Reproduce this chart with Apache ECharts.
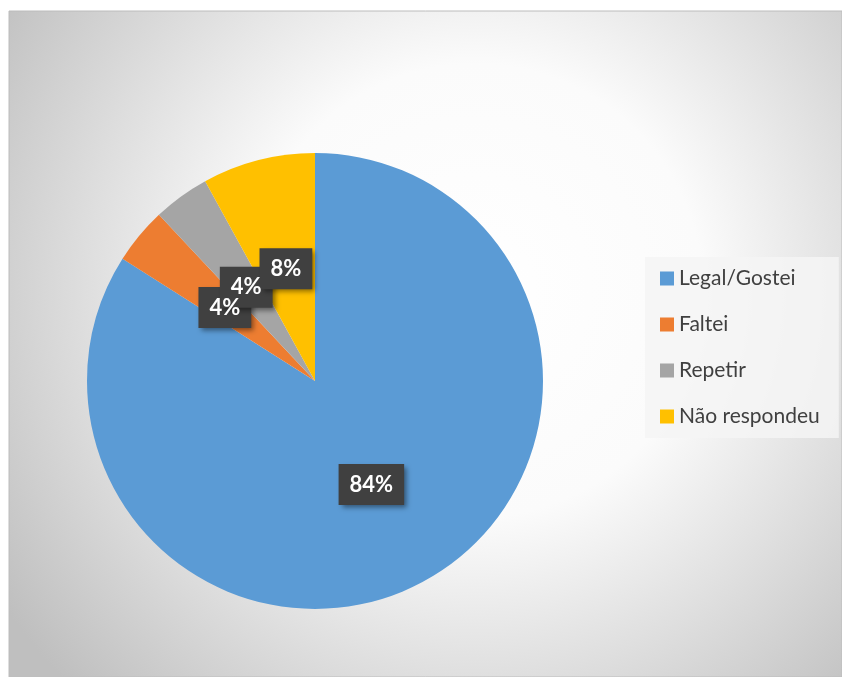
<!DOCTYPE html>
<html>
<head>
<meta charset="utf-8">
<style>
  html, body { margin: 0; padding: 0; background: #ffffff; }
  #chart { width: 842px; height: 677px; }
</style>
<script src="https://cdn.jsdelivr.net/npm/echarts@6/dist/echarts.min.js"></script>
</head>
<body>
<div id="chart"></div>
<script>
// Survey answers (respondent counts)
const categories = ['Legal/Gostei', 'Faltei', 'Repetir', 'Não respondeu'];
const counts = [21, 1, 1, 2];
const colors = ['#5B9BD5', '#ED7D31', '#A5A5A5', '#FFC000'];

const chart = echarts.init(document.getElementById('chart'), null, { renderer: 'canvas' });

const PIE_CENTER = [315, 381];
const PIE_RADIUS = [0, 228];
const LABEL_FONT = 'Lato, "Noto Sans", sans-serif';

// Shared label box geometry; the text layer reuses it so glyphs sit exactly over their boxes
const labelBox = {
  show: true,
  position: 'inside',
  formatter: '{d}%',
  fontFamily: LABEL_FONT,
  fontWeight: 'bold',
  fontSize: 22,
  lineHeight: 22,
  padding: [12, 11, 7, 11],
  offset: [0, 1]
};

chart.setOption({
  animation: false,
  backgroundColor: '#ffffff',
  graphic: [{
    type: 'rect',
    z: -10,
    silent: true,
    shape: { x: 9, y: 11, width: 833, height: 666 },
    style: {
      fill: {
        type: 'radial',
        x: 0.56, y: 0.42, r: 0.85,
        colorStops: [
          { offset: 0, color: '#ffffff' },
          { offset: 0.4, color: '#fbfbfb' },
          { offset: 1, color: '#bfbfbf' }
        ]
      },
      stroke: '#bcbcbc',
      lineWidth: 1
    }
  }],
  legend: {
    orient: 'vertical',
    left: 645,
    top: 257,
    padding: [11, 19, 11, 15],
    backgroundColor: 'rgba(244,244,244,0.85)',
    itemWidth: 14,
    itemHeight: 14,
    itemGap: 25,
    itemTextGap: 6,
    icon: 'rect',
    data: categories,
    textStyle: {
      fontFamily: LABEL_FONT,
      fontSize: 21,
      lineHeight: 20,
      color: '#404040'
    }
  },
  series: [
    {
      // slices plus the dark label boxes (text hidden here)
      type: 'pie',
      center: PIE_CENTER,
      radius: PIE_RADIUS,
      startAngle: 90,
      clockwise: true,
      avoidLabelOverlap: false,
      data: categories.map((name, i) => ({
        name: name,
        value: counts[i],
        itemStyle: { color: colors[i] }
      })),
      itemStyle: { borderWidth: 0 },
      labelLayout: { hideOverlap: false },
      label: Object.assign({}, labelBox, {
        color: 'rgba(0,0,0,0)',
        backgroundColor: '#404040',
        shadowColor: 'rgba(0,0,0,0.45)',
        shadowBlur: 5,
        shadowOffsetX: 3,
        shadowOffsetY: 3
      }),
      labelLine: { show: false },
      emphasis: { disabled: true }
    },
    {
      // percentage text drawn above every box
      type: 'pie',
      center: PIE_CENTER,
      radius: PIE_RADIUS,
      startAngle: 90,
      clockwise: true,
      silent: true,
      z: 3,
      avoidLabelOverlap: false,
      data: categories.map((name, i) => ({
        name: name,
        value: counts[i],
        itemStyle: { color: 'rgba(0,0,0,0)' }
      })),
      itemStyle: { borderWidth: 0 },
      labelLayout: { hideOverlap: false },
      label: Object.assign({}, labelBox, { color: '#ffffff' }),
      labelLine: { show: false },
      emphasis: { disabled: true },
      tooltip: { show: false }
    }
  ]
});
</script>
</body>
</html>
